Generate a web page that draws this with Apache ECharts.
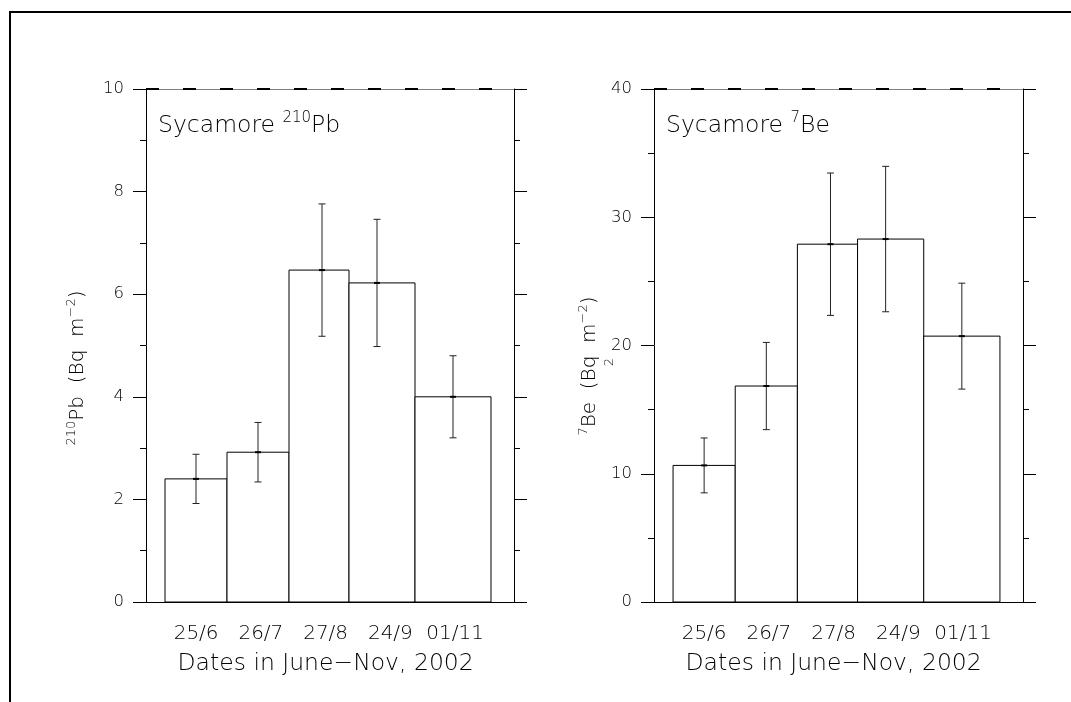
<!DOCTYPE html>
<html>
<head>
<meta charset="utf-8">
<script src="https://cdn.jsdelivr.net/npm/echarts@6/dist/echarts.min.js"></script>
<style>
  html, body { margin: 0; padding: 0; background: #fff; }
  #chart { width: 1071px; height: 702px; }
</style>
</head>
<body>
<div id="chart"></div>
<script>
// Sampling dates (category labels under each panel)
const dateLabels = ['25/6', '26/7', '27/8', '24/9', '01/11'];
// Collection periods along the time axis (days), one bin per sample
const binEdges = [9.5, 40.5, 71.5, 101.5, 134.5, 172.5];
// Where each error bar sits along the time axis (days)
const errX = [25, 56, 88, 115.5, 153.5];

// 210Pb deposition (Bq m^-2) and its uncertainty
const pb210 = [2.40, 2.92, 6.47, 6.22, 4.00];
const pb210Err = [0.48, 0.58, 1.29, 1.24, 0.80];

// 7Be deposition (Bq m^-2) and its uncertainty
const be7 = [10.65, 16.84, 27.90, 28.30, 20.73];
const be7Err = [2.14, 3.40, 5.55, 5.67, 4.13];

const FONT = "'DejaVu Sans', sans-serif";
const WEIGHT = 200;
const INK = '#000';

function binData(vals) {
  return vals.map((v, i) => [binEdges[i], binEdges[i + 1], v]);
}
function errData(vals, errs) {
  return vals.map((v, i) => [errX[i], v, errs[i]]);
}

function renderBin(params, api) {
  const p0 = api.coord([api.value(0), 0]);
  const p1 = api.coord([api.value(1), api.value(2)]);
  return {
    type: 'rect',
    shape: { x: p0[0], y: p1[1], width: p1[0] - p0[0], height: p0[1] - p1[1] },
    style: { fill: '#fff', stroke: '#000', lineWidth: 1 }
  };
}

function renderErr(params, api) {
  const x = api.value(0), v = api.value(1), e = api.value(2);
  const top = api.coord([x, v + e]);
  const mid = api.coord([x, v]);
  const bot = api.coord([x, v - e]);
  const cap = 3.5;
  const st = { stroke: '#222', lineWidth: 1 };
  return {
    type: 'group',
    children: [
      { type: 'line', shape: { x1: top[0], y1: top[1], x2: bot[0], y2: bot[1] }, style: st },
      { type: 'line', shape: { x1: top[0] - cap, y1: top[1], x2: top[0] + cap, y2: top[1] }, style: st },
      { type: 'line', shape: { x1: bot[0] - cap, y1: bot[1], x2: bot[0] + cap, y2: bot[1] }, style: st },
      { type: 'line', shape: { x1: mid[0] - 3, y1: mid[1], x2: mid[0] + 3, y2: mid[1] }, style: { stroke: '#000', lineWidth: 2 } }
    ]
  };
}

// Panel layout: main plotting grid plus an overlaid grid holding the date labels
const panels = [
  { left: 146, width: 368, max: 10, interval: 2, vals: pb210, errs: pb210Err },
  { left: 654, width: 369, max: 40, interval: 10, vals: be7, errs: be7Err }
];
const TIME_MAX = 184;
const labelOffset = 17.75, labelWidth = 323.75;

const grids = [], xAxes = [], yAxes = [], series = [];

panels.forEach((p, k) => {
  const g = grids.length;
  grids.push({ left: p.left, width: p.width, top: 89, bottom: 100 });
  grids.push({ left: p.left + labelOffset, width: labelWidth, top: 89, bottom: 100 });

  // time axis (bottom line) and top frame line
  xAxes.push({
    gridIndex: g, type: 'value', min: 0, max: TIME_MAX, position: 'bottom',
    axisLine: { show: true, onZero: false, lineStyle: { color: '#000', width: 1 } },
    axisTick: { show: false }, axisLabel: { show: false }, splitLine: { show: false }
  });
  xAxes.push({
    gridIndex: g, type: 'value', min: 0, max: TIME_MAX, position: 'top',
    axisLine: { show: true, onZero: false, lineStyle: { color: '#808080', width: 1 } },
    axisTick: { show: false }, axisLabel: { show: false }, splitLine: { show: false }
  });
  // date labels
  xAxes.push({
    gridIndex: g + 1, type: 'category', data: dateLabels, position: 'bottom',
    axisLine: { show: false, onZero: false }, axisTick: { show: false },
    axisLabel: { interval: 0, fontFamily: FONT, fontWeight: WEIGHT, fontSize: 20, color: INK, margin: 22 },
    name: 'Dates in June\u2212Nov, 2002', nameLocation: 'middle', nameGap: 50,
    nameTextStyle: { fontFamily: FONT, fontWeight: WEIGHT, fontSize: 23.5, color: INK }
  });

  const yCommon = {
    type: 'value', min: 0, max: p.max, interval: p.interval,
    axisLine: { show: true, onZero: false, lineStyle: { color: '#000', width: 1 } },
    axisTick: { show: true, inside: false, length: 13, lineStyle: { color: '#000', width: 1 } },
    minorTick: { show: true, splitNumber: 2, length: 6, lineStyle: { color: '#000', width: 1 } },
    splitLine: { show: false }, minorSplitLine: { show: false }
  };
  yAxes.push(Object.assign({}, yCommon, {
    gridIndex: g, position: 'left',
    axisLabel: { fontFamily: FONT, fontWeight: WEIGHT, fontSize: 16.5, color: INK, margin: 22 }
  }));
  yAxes.push(Object.assign({}, yCommon, {
    gridIndex: g, position: 'right', axisLabel: { show: false }
  }));
  yAxes.push({ gridIndex: g + 1, type: 'value', show: false, min: 0, max: p.max });

  const xi = k * 3, yi = k * 3;
  series.push({
    type: 'custom', xAxisIndex: xi, yAxisIndex: yi, renderItem: renderBin,
    data: binData(p.vals), silent: true, z: 2,
    markLine: {
      silent: true, symbol: ['none', 'none'], label: { show: false },
      lineStyle: { color: '#000', width: 2, type: [13, 24] },
      data: [{ yAxis: p.max }]
    }
  });
  series.push({
    type: 'custom', xAxisIndex: xi, yAxisIndex: yi, renderItem: renderErr,
    data: errData(p.vals, p.errs), silent: true, z: 3
  });
});

const titleRich = {
  t: { fontFamily: FONT, fontWeight: WEIGHT, fontSize: 23.5, color: INK, lineHeight: 30 },
  s: { fontFamily: FONT, fontWeight: WEIGHT, fontSize: 15, color: INK, verticalAlign: 'top', lineHeight: 18 }
};
const axisRich = {
  t: { fontFamily: FONT, fontWeight: WEIGHT, fontSize: 20, color: INK, lineHeight: 26 },
  s: { fontFamily: FONT, fontWeight: WEIGHT, fontSize: 13, color: INK, verticalAlign: 'top', lineHeight: 16 }
};

const option = {
  backgroundColor: '#fff',
  animation: false,
  title: [
    { text: '{t|Sycamore }{s|210}{t|Pb}', left: 158, top: 111, padding: 0, textStyle: { fontWeight: WEIGHT, rich: titleRich } },
    { text: '{t|Sycamore }{s|7}{t|Be}', left: 666, top: 111, padding: 0, textStyle: { fontWeight: WEIGHT, rich: titleRich } }
  ],
  grid: grids,
  xAxis: xAxes,
  yAxis: yAxes,
  series: series,
  graphic: [
    // outer frame
    { type: 'polyline', shape: { points: [[10, 702], [10, 12], [1071, 12]] }, style: { stroke: '#000', lineWidth: 2, fill: null } },
    {
      type: 'text', x: 78, y: 368, rotation: Math.PI / 2,
      style: { text: '{s|210}{t|Pb  (Bq  m}{s|\u22122}{t|)}', rich: axisRich, align: 'center', verticalAlign: 'middle' }
    },
    {
      type: 'text', x: 590, y: 366, rotation: Math.PI / 2,
      style: { text: '{s|7}{t|Be  (Bq  m}{s|\u22122}{t|)}', rich: axisRich, align: 'center', verticalAlign: 'middle' }
    },
    {
      type: 'text', x: 610, y: 362, rotation: Math.PI / 2,
      style: { text: '2', fontFamily: FONT, fontWeight: WEIGHT, fontSize: 13, fill: INK, align: 'center', verticalAlign: 'middle' }
    }
  ]
};

const chart = echarts.init(document.getElementById('chart'), null, { renderer: 'canvas' });
chart.setOption(option);
</script>
</body>
</html>
